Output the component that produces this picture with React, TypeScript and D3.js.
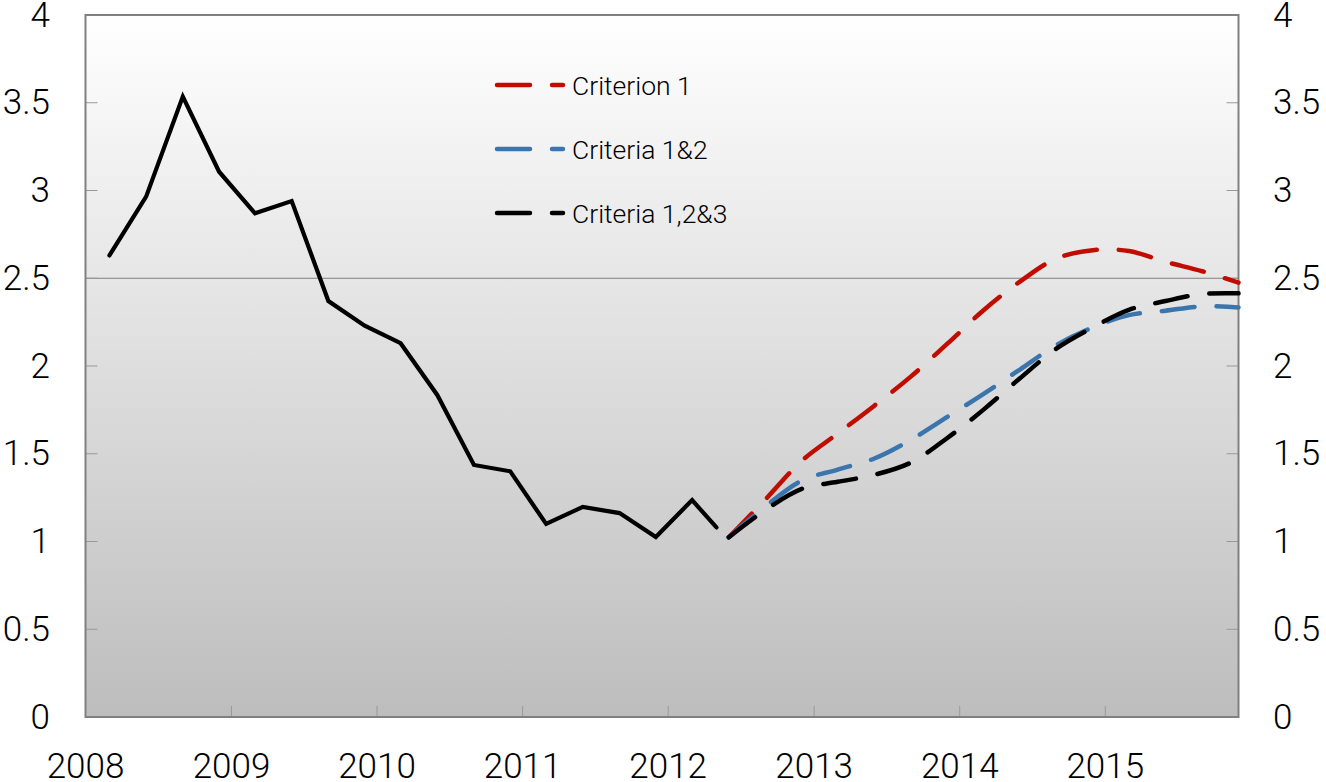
import React, { useEffect, useRef } from "react";
import * as d3 from "d3";

const histDates = ["2008-03","2008-06","2008-09","2008-12","2009-03","2009-06","2009-09","2009-12","2010-03","2010-06","2010-09","2010-12","2011-03","2011-06","2011-09","2011-12","2012-03","2012-05"];
const histValues = [2.63,2.965,3.535,3.107,2.87,2.94,2.37,2.23,2.13,1.835,1.436,1.40,1.10,1.197,1.162,1.026,1.236,1.08];

const projDates = ["2012-06","2012-09","2012-12","2013-03","2013-06","2013-09","2013-12","2014-03","2014-06","2014-09","2014-12","2015-03","2015-06","2015-09","2015-12"];
const criterion1 = [1.024,1.24,1.46,1.615,1.774,1.941,2.127,2.316,2.481,2.613,2.66,2.655,2.594,2.54,2.475];
const criteria12 = [1.024,1.20,1.347,1.41,1.473,1.58,1.71,1.84,1.98,2.12,2.22,2.29,2.315,2.34,2.334];
const criteria123 = [1.024,1.18,1.30,1.34,1.38,1.45,1.59,1.75,1.93,2.10,2.22,2.32,2.37,2.41,2.414];

const seriesNames = ["Criterion 1","Criteria 1&2","Criteria 1,2&3"];
const seriesColors = ["#c00d00","#3a76ad","#000000"];

const yTicks = [0,0.5,1,1.5,2,2.5,3,3.5,4];
const yTickLabels = ["0","0.5","1","1.5","2","2.5","3","3.5","4"];
const xYears = [2008,2009,2010,2011,2012,2013,2014,2015];

const W = 1326, H = 782;
const M = { left: 85.5, right: 1238.5, top: 15, bottom: 717 };
const FONT = "Roboto, 'Liberation Sans', sans-serif";

function parseMonth(s: string) {
  const [y, m] = s.split("-").map(Number);
  return new Date(y, m - 1, 1);
}

export default function App() {
  const ref = useRef<SVGSVGElement>(null);
  useEffect(() => {
    const svg = d3.select(ref.current);
    svg.selectAll("*").remove();
    const x = d3.scaleTime().domain([new Date(2008, 0, 1), new Date(2015, 11, 1)]).range([M.left, M.right]);
    const y = d3.scaleLinear().domain([0, 4]).range([M.bottom, M.top]);

    const defs = svg.append("defs");
    const g = defs.append("linearGradient").attr("id", "bg").attr("x1", 0).attr("y1", 0).attr("x2", 0).attr("y2", 1);
    g.append("stop").attr("offset", "0%").attr("stop-color", "#ffffff");
    g.append("stop").attr("offset", "100%").attr("stop-color", "#bdbdbd");

    svg.append("rect").attr("x", M.left).attr("y", M.top).attr("width", M.right - M.left).attr("height", M.bottom - M.top).attr("fill", "url(#bg)");

    svg.append("line").attr("x1", M.left).attr("x2", M.right).attr("y1", y(2.5)).attr("y2", y(2.5)).attr("stroke", "#808080").attr("stroke-width", 1);

    yTicks.forEach((t) => {
      if (t === 0 || t === 4) return;
      svg.append("line").attr("x1", M.left).attr("x2", M.left + 12).attr("y1", y(t)).attr("y2", y(t)).attr("stroke", "#999").attr("stroke-width", 1);
      svg.append("line").attr("x1", M.right - 12).attr("x2", M.right).attr("y1", y(t)).attr("y2", y(t)).attr("stroke", "#999").attr("stroke-width", 1);
    });
    xYears.forEach((yr) => {
      if (yr === 2008) return;
      const xx = x(new Date(yr, 0, 1));
      svg.append("line").attr("x1", xx).attr("x2", xx).attr("y1", M.bottom - 11).attr("y2", M.bottom).attr("stroke", "#999").attr("stroke-width", 1);
    });

    svg.append("rect").attr("x", M.left).attr("y", M.top).attr("width", M.right - M.left).attr("height", M.bottom - M.top).attr("fill", "none").attr("stroke", "#808080").attr("stroke-width", 2);

    yTicks.forEach((t, i) => {
      svg.append("text").attr("x", 50).attr("y", y(t)).attr("text-anchor", "end").attr("dominant-baseline", "central")
        .attr("font-family", FONT).attr("font-weight", 300).attr("font-size", 35).attr("fill", "#000").text(yTickLabels[i]);
      svg.append("text").attr("x", 1273).attr("y", y(t)).attr("text-anchor", "start").attr("dominant-baseline", "central")
        .attr("font-family", FONT).attr("font-weight", 300).attr("font-size", 35).attr("fill", "#000").text(yTickLabels[i]);
    });
    xYears.forEach((yr) => {
      svg.append("text").attr("x", x(new Date(yr, 0, 1))).attr("y", 778).attr("text-anchor", "middle")
        .attr("font-family", FONT).attr("font-weight", 300).attr("font-size", 35).attr("fill", "#000").text(String(yr));
    });

    const lineStraight = d3.line<[Date, number]>().x((d) => x(d[0])).y((d) => y(d[1]));
    const hist: [Date, number][] = histDates.map((d, i) => [parseMonth(d), histValues[i]]);
    svg.append("path").attr("d", lineStraight(hist)).attr("fill", "none").attr("stroke", "#000").attr("stroke-width", 4.2)
      .attr("stroke-linejoin", "miter").attr("stroke-linecap", "round");

    const lineSmooth = d3.line<[Date, number]>().x((d) => x(d[0])).y((d) => y(d[1])).curve(d3.curveCatmullRom.alpha(0.5));
    const series = [criterion1, criteria12, criteria123];
    series.forEach((vals, si) => {
      const pts: [Date, number][] = projDates.map((d, i) => [parseMonth(d), vals[i]]);
      svg.append("path").attr("d", lineSmooth(pts)).attr("fill", "none").attr("stroke", seriesColors[si]).attr("stroke-width", 4.5)
        .attr("stroke-dasharray", "33 22").attr("stroke-linecap", "round");
    });

    seriesNames.forEach((name, i) => {
      const ly = 85 + i * 64;
      svg.append("line").attr("x1", 497).attr("x2", 563).attr("y1", ly).attr("y2", ly).attr("stroke", seriesColors[i])
        .attr("stroke-width", 4.5).attr("stroke-dasharray", "33 22").attr("stroke-linecap", "round");
      svg.append("text").attr("x", 572).attr("y", ly).attr("dominant-baseline", "central").attr("font-family", FONT)
        .attr("font-weight", 300).attr("font-size", 26.5).attr("fill", "#000").text(name);
    });
  }, []);
  return (
    <div style={{ position: "fixed", left: 0, top: 0 }}>
      <svg ref={ref} width={W} height={H} style={{ display: "block", background: "#fff" }} />
    </div>
  );
}
